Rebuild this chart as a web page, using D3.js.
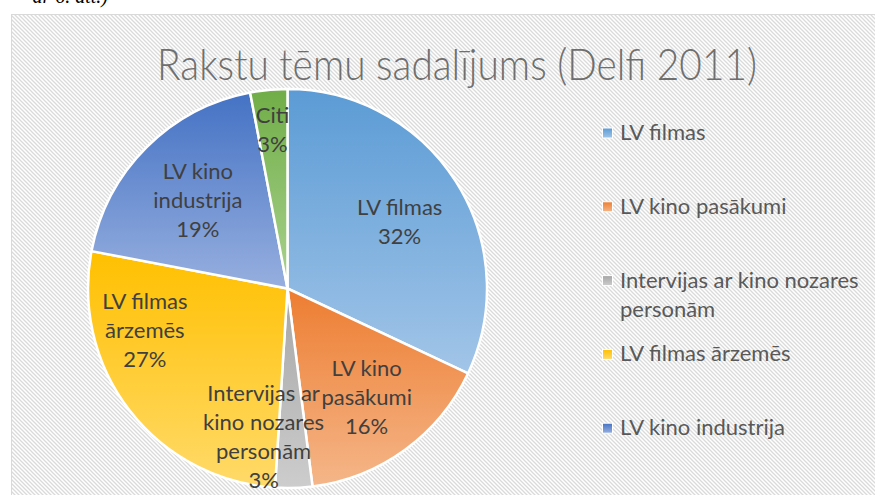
<!DOCTYPE html>
<html><head><meta charset="utf-8">
<script src="https://cdn.jsdelivr.net/npm/d3@7/dist/d3.min.js"></script>
<style>body{margin:0;background:#fff;overflow:hidden} svg{display:block}</style>
</head><body>
<svg id="c" width="875" height="495"></svg>
<script>
// ---- data ----
const titleText = "Rakstu tēmu sadalījums (Delfi 2011)";
const categories = ["LV filmas", "LV kino pasākumi", "Intervijas ar kino nozares personām", "LV filmas ārzemēs", "LV kino industrija", "Citi"];
const values = [32, 16, 3, 27, 19, 3];
const sliceLabelLines = [["LV filmas"], ["LV kino", "pasākumi"], ["Intervijas ar", "kino nozares", "personām"], ["LV filmas", "ārzemēs"], ["LV kino", "industrija"], ["Citi"]];
const legendLines = [["LV filmas"], ["LV kino pasākumi"], ["Intervijas ar kino nozares", "personām"], ["LV filmas ārzemēs"], ["LV kino industrija"], ["Citi"]];

// ---- style / layout ----
const colorTop = ["#5b9bd5", "#ed7d31", "#a5a5a5", "#ffc000", "#4472c4", "#70ad47"];
const colorBottom = ["#a2c5e8", "#f5b689", "#cdcdcd", "#ffda6a", "#97afdf", "#aad28f"];
const labelLayout = [{r:0.655,da:1.5},{r:0.675,da:0},{r:0.75,da:11},{r:0.745,da:21.5},{r:0.63,da:-0.5},{r:0.8,da:0}];
const cx = 287.5, cy = 288.5, R = 199.5;
const W = 875, H = 495;

const svg = d3.select("#c");
const defs = svg.append("defs");
const pat = defs.append("pattern").attr("id","hatch").attr("patternUnits","userSpaceOnUse")
  .attr("width",4).attr("height",4);
pat.append("rect").attr("width",4).attr("height",4).attr("fill","#ffffff");
pat.append("path").attr("d","M-1,-1L5,5M-1,3L1,5M3,-1L5,1").attr("stroke","#dadada").attr("stroke-width",1.3);

categories.forEach((c,i)=>{
  const g = defs.append("linearGradient").attr("id","g"+i).attr("x1",0).attr("y1",0).attr("x2",0).attr("y2",1);
  g.append("stop").attr("offset","0%").attr("stop-color",colorTop[i]);
  g.append("stop").attr("offset","100%").attr("stop-color",colorBottom[i]);
});

// clipped caption text from the document above the chart
svg.append("text").attr("x",108).attr("y",3).attr("text-anchor","end")
  .attr("font-family","'Liberation Serif', serif").attr("font-style","italic").attr("font-size",20)
  .attr("fill","#000").text("ar 6. att.)");

// chart area
svg.append("rect").attr("x",11.5).attr("y",14.5).attr("width",900).attr("height",600)
  .attr("fill","url(#hatch)").attr("stroke","#d9d9d9").attr("stroke-width",1);

// title
const title = svg.append("text").attr("x",457).attr("y",80).attr("text-anchor","middle")
  .attr("font-family","Lato, 'Open Sans', sans-serif").attr("font-weight",300).attr("font-size",44)
  .attr("fill","#6f6f6f").text(titleText);
const tw = title.node().getComputedTextLength();
if (tw > 600) title.attr("textLength",600).attr("lengthAdjust","spacingAndGlyphs");

// pie
const total = d3.sum(values);
const pct = d3.format(".0%");
const pie = d3.pie().sort(null).value(d=>d);
const arcs = pie(values);
const arc = d3.arc().innerRadius(0).outerRadius(R);
const gPie = svg.append("g").attr("transform",`translate(${cx},${cy})`);
gPie.selectAll("path").data(arcs).join("path")
  .attr("d",arc).attr("fill",(d,i)=>`url(#g${i})`)
  .attr("stroke","#fff").attr("stroke-width",2.5).attr("stroke-linejoin","round");

// slice labels
const LH = 29;
arcs.forEach((d,i)=>{
  const lay = labelLayout[i];
  const a = (d.startAngle + d.endAngle)/2 + lay.da*Math.PI/180;
  const x = Math.sin(a)*R*lay.r, y = -Math.cos(a)*R*lay.r;
  const lines = sliceLabelLines[i].concat([pct(d.value/total)]);
  const t = gPie.append("text").attr("text-anchor","middle")
    .attr("font-family","Lato, 'Open Sans', sans-serif").attr("font-size",22).attr("fill","#404040");
  lines.forEach((ln,j)=>{
    t.append("tspan").attr("x",x).attr("y", y + (j-(lines.length-1)/2)*LH + 8).text(ln);
  });
});

// legend (entries that fall below the visible frame are cut off, as in the source)
const legY0 = 140, legStep = 73.8;
const gLeg = svg.append("g");
categories.forEach((c,i)=>{
  const by = legY0 + i*legStep;
  if (by > H) return;
  gLeg.append("rect").attr("x",602.5).attr("y",by-12).attr("width",10).attr("height",10)
    .attr("fill",`url(#g${i})`).attr("stroke","#fff").attr("stroke-width",1);
  const t = gLeg.append("text").attr("font-family","Lato, 'Open Sans', sans-serif")
    .attr("font-size",22).attr("fill","#595959");
  legendLines[i].forEach((ln,j)=>{
    t.append("tspan").attr("x",620).attr("y",by + j*LH).text(ln);
  });
});
</script>
</body></html>
